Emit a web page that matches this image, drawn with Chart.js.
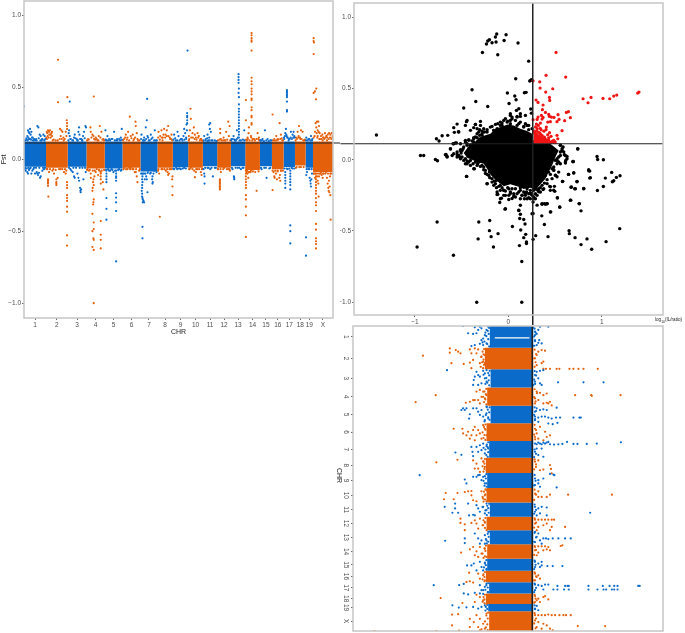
<!DOCTYPE html>
<html>
<head>
<meta charset="utf-8">
<title>Fst and log ratio by chromosome</title>
<script src="https://cdn.jsdelivr.net/npm/chart.js@4"></script>
<style>
html, body { margin: 0; padding: 0; background: #fff; }
canvas, .note { position: absolute; }
.note { font-family: "Liberation Sans", sans-serif; color: #222; white-space: nowrap; }
</style>
</head>
<body>
<canvas id="manhattan" width="340" height="336" style="left:0;top:0"></canvas>
<canvas id="volcano" width="345" height="325" style="left:340px;top:0"></canvas>
<canvas id="flipped" width="355" height="308" style="left:330px;top:325px"></canvas>
<div class="note" style="left:655px;top:317px;font-size:4.6px">log<sub style="font-size:3.4px">10</sub>(IL/ratio)</div>
<div class="note" style="left:336px;top:468px;font-size:7px;writing-mode:vertical-rl">CHR</div>
<script>
var chrLabels = ['1', '2', '3', '4', '5', '6', '7', '8', '9', '10', '11', '12', '13', '14', '15', '16', '17', '18', '19', 'X'];
// chromosome edges along the genome axis (relative position)
var chrEdges = [0, 66, 131, 187, 242, 295, 349, 400, 446, 492, 536, 579, 620, 663, 707, 743, 778, 812, 844, 866, 926];
var fstTicks = [-1, -0.5, 0, 0.5, 1];
var ratioTicks = [-1, 0, 1];
var fstCutoff = 0.112;
var ratioCutoff = 0.26;

// solid part of the manhattan band, per chromosome
var fstBandTop = 0.122;
var fstBandBottom = [-0.052, -0.06, -0.052, -0.065, -0.065, -0.06, -0.085, -0.06, -0.057, -0.06, -0.05, -0.06, -0.05, -0.075, -0.05, -0.07, -0.055, -0.045, -0.06, -0.09];

// [genome position, Fst]
var fstBlue = [[0,.367],[12,.2],[14,.19],[16,.18],[18,.21],[20,.17],[22,.19],[10,.16],[13,.15],[18,.14],[24,.15],[8,.135],[27,.13],[30,.14],[36,.14],[40,.23],[43,.22],[47,.17],[50,.16],[54,.14],[58,.17],[62,.16],[64,.14],[33,.13],[52,.13],
  [137,.16],[135,.2],[134,.18],[150,.15],[152,.17],[158,.14],[163,.19],[165,.22],[166,.17],[172,.14],[180,.19],[184,.23],[186,.22],[177,.16],[160,.13],[145,.13],[175,.13],[140,.14],[137,.4],
  [244,.2],[250,.16],[255,.14],[262,.14],[270,.19],[276,.13],[285,.14],[293,.21],[247,.13],[280,.13],[290,.15],
  [352,.17],[360,.15],[365,.22],[368,.27],[369,.418],[362,.13],[372,.15],[380,.17],[385,.15],[392,.2],[357,.13],[377,.13],[395,.13],[370,.16],
  [450,.17],[455,.13],[460,.19],[463,.16],[470,.14],[478,.16],[480,.21],[483,.18],[487,.24],[490,.754],[489,.32],[489,.3],[489,.29],[489,.27],[489,.25],[488,.2],[486,.14],[475,.13],
  [540,.16],[545,.14],[550,.17],[555,.15],[552,.13],[558,.25],[555,.24],[557,.21],[562,.13],[550,.125],[560,.19],
  [622,.14],[628,.16],[632,.13],[638,.2],[643,.59],[643,.57],[643,.55],[643,.53],[644,.49],[643,.46],[644,.43],[644,.38],[644,.35],[644,.33],[644,.31],[644,.29],[644,.27],[644,.25],[644,.23],[644,.21],[644,.19],[644,.17],[644,.15],[660,.2],[646,.13],[638,.14],
  [722,.2],[715,.14],[710,.13],[730,.14],[738,.13],
  [788,.48],[788,.47],[788,.46],[788,.45],[788,.44],[788,.43],[788,.4],[788,.34],[788,.33],[785,.21],[783,.18],[780,.14],[790,.15],[793,.13],[800,.19],[805,.17],[808,.19],[811,.15],[796,.14],[787,.16],
  [846,.15],[850,.13],[855,.14],[860,.16],[863,.13],
  [2,-.07],[5,-.08],[8,-.065],[10,-.09],[15,-.075],[20,-.06],[25,-.08],[28,-.07],[33,-.1],[38,-.09],[42,-.11],[45,-.095],[48,-.13],[50,-.12],[40,-.1],[55,-.08],[60,-.07],[12,-.1],[22,-.1],
  [139,-.07],[146,-.09],[150,-.12],[152,-.13],[160,-.1],[163,-.13],[165,-.15],[168,-.2],[169,-.22],[170,-.23],[171,-.21],[178,-.14],[185,-.09],[142,-.08],
  [247,-.08],[247,-.1],[247,-.12],[247,-.14],[247,-.16],[247,-.27],[247,-.345],[247,-.42],[276,-.08],[276,-.1],[276,-.12],[276,-.13],[276,-.15],[276,-.237],[276,-.267],[276,-.3],[276,-.36],[276,-.71],[255,-.08],[262,-.07],[268,-.09],[285,-.07],[290,-.08],[252,-.07],
  [354,-.1],[355,-.12],[354,-.14],[355,-.16],[354,-.18],[354,-.2],[353,-.22],[354,-.24],[354,-.26],[355,-.27],[356,-.28],[358,-.29],[360,-.3],[356,-.3],[355,-.47],[355,-.55],[370,-.23],[368,-.14],[366,-.12],[372,-.08],[378,-.1],[384,-.14],[385,-.12],[385,-.17],[386,-.16],[390,-.08],[395,-.07],[360,-.1],[362,-.14],[358,-.07],[375,-.07],
  [450,-.07],[456,-.06],[463,-.065],[470,-.07],[480,-.06],
  [538,-.07],[540,-.1],[541,-.12],[541,-.17],[566,-.12],[550,-.06],[558,-.07],[572,-.06],
  [629,-.12],[630,-.13],[630,-.14],[625,-.07],[640,-.06],[650,-.07],[658,-.06],
  [727,-.13],[712,-.07],[720,-.06],[735,-.065],
  [798,-.08],[798,-.1],[798,-.12],[798,-.14],[798,-.16],[798,-.18],[798,-.21],[798,-.46],[798,-.5],[798,-.585],[783,-.09],[783,-.11],[783,-.13],[783,-.15],[783,-.17],[783,-.2],[790,-.07],[805,-.065],
  [845,-.543],[845,-.67],[846,-.11],[848,-.09],[856,-.13],[858,-.15],[859,-.17],[860,-.19],[861,-.14],[863,-.1],[852,-.07]];
var fstOrange = [[68,.19],[70,.18],[72,.2],[75,.19],[78,.2],[80,.17],[82,.18],[84,.19],[74,.15],[86,.13],[69,.14],[102,.69],[102,.395],[108,.21],[112,.2],[115,.19],[118,.15],[110,.16],[128,.27],[129,.25],[129,.23],[129,.21],[130,.43],[122,.14],[125,.19],
  [199,.22],[192,.14],[200,.19],[205,.17],[209,.435],[215,.15],[227,.23],[224,.16],[220,.13],[232,.19],[238,.14],[210,.14],
  [300,.14],[305,.17],[310,.15],[317,.295],[320,.16],[326,.17],[334,.26],[335,.23],[330,.14],[338,.18],[342,.13],[312,.19],
  [403,.19],[408,.16],[412,.2],[416,.15],[420,.21],[424,.17],[428,.2],[432,.23],[438,.14],[442,.17],[415,.13],
  [494,.16],[497,.2],[499,.35],[500,.28],[505,.18],[509,.22],[512,.17],[515,.15],[520,.18],[524,.16],[529,.14],[533,.13],[494,.13],
  [588,.21],[588,.18],[590,.14],[598,.15],[606,.19],[612,.26],[616,.23],[614,.16],[602,.13],
  [682,.875],[682,.86],[682,.84],[682,.825],[682,.815],[682,.754],[682,.565],[682,.54],[682,.52],[682,.49],[682,.47],[682,.45],[682,.42],[682,.41],[682,.36],[682,.34],[682,.3],[682,.29],[682,.25],[682,.24],[665,.41],[665,.27],[673,.18],[674,.22],[670,.15],[680,.16],[690,.14],[700,.18],[704,.15],[668,.13],[684,.13],
  [745,.31],[750,.14],[760,.14],[766,.25],[770,.17],[774,.13],[756,.16],
  [815,.15],[820,.19],[824,.23],[830,.2],[835,.19],[828,.14],[840,.13],[822,.15],
  [868,.73],[868,.84],[868,.82],[869,.81],[868,.46],[872,.47],[876,.49],[875,.415],[874,.25],[876,.22],[878,.26],[880,.2],[882,.26],[884,.23],[872,.19],[886,.18],[890,.16],[894,.17],[898,.15],[902,.18],[906,.16],[910,.17],[914,.18],[918,.17],[922,.18],[924,.15],[880,.16],[885,.14],[895,.13],[908,.13],[877,.18],[883,.19],
  [72,-.14],[72,-.15],[72,-.16],[72,-.17],[72,-.185],[73,-.26],[97,-.14],[97,-.16],[97,-.17],[97,-.18],[101,-.13],[90,-.1],[75,-.09],[70,-.07],[85,-.08],[110,-.07],[120,-.09],[125,-.1],[129,-.2],[129,-.25],[129,-.27],[129,-.29],[129,-.33],[129,-.365],[129,-.53],[129,-.6],[129,-.18],[129,-.16],
  [209,-1],[208,-.3],[209,-.28],[207,-.315],[205,-.38],[209,-.44],[209,-.485],[205,-.5],[208,-.55],[209,-.56],[205,-.61],[209,-.63],[205,-.22],[206,-.2],[209,-.18],[207,-.16],[208,-.14],[211,-.12],[190,-.07],[195,-.08],[200,-.1],[215,-.09],[200,-.13],[230,-.1],[230,-.12],[230,-.14],[230,-.17],[230,-.43],[230,-.525],[230,-.56],[230,-.62],[230,-.09],[238,-.21],[236,-.16],[226,-.08],[222,-.11],[218,-.07],
  [300,-.06],[310,-.07],[320,-.06],[325,-.07],[332,-.09],[335,-.09],[338,-.12],[340,-.16],[345,-.08],[315,-.06],
  [407,-.4],[402,-.08],[405,-.1],[415,-.07],[425,-.08],[430,-.09],[432,-.11],[434,-.1],[438,-.07],[445,-.19],[445,-.25],[445,-.12],[444,-.14],
  [496,-.07],[500,-.06],[510,-.08],[512,-.125],[515,-.09],[520,-.07],[530,-.09],[532,-.11],[533,-.07],
  [587,-.14],[587,-.15],[587,-.16],[587,-.17],[587,-.18],[587,-.19],[587,-.2],[587,-.21],[582,-.07],[590,-.09],[600,-.06],[612,-.07],[617,-.08],
  [665,-.08],[665,-.1],[665,-.12],[665,-.14],[665,-.16],[665,-.18],[665,-.2],[665,-.25],[665,-.28],[665,-.33],[665,-.39],[665,-.54],[670,-.1],[672,-.13],[669,-.08],[675,-.09],[697,-.22],[680,-.08],[690,-.07],[700,-.07],
  [745,-.215],[748,-.09],[750,-.12],[751,-.13],[755,-.1],[758,-.14],[765,-.13],[767,-.11],[768,-.15],[770,-.08],[760,-.08],
  [815,-.06],[830,-.055],
  [875,-.1],[875,-.12],[875,-.14],[875,-.16],[875,-.18],[875,-.2],[875,-.22],[875,-.24],[875,-.27],[875,-.3],[875,-.32],[875,-.36],[875,-.45],[875,-.49],[875,-.55],[875,-.57],[875,-.59],[875,-.62],[883,-.26],[870,-.1],[872,-.13],[878,-.12],[880,-.15],[882,-.17],[884,-.12],[886,-.1],[890,-.09],[892,-.11],[895,-.13],[898,-.1],[900,-.08],[905,-.09],[908,-.13],[910,-.17],[912,-.2],[913,-.22],[915,-.23],[918,-.25],[919,-.42],[914,-.15],[917,-.12],[920,-.1],[923,-.08],[916,-.19]];
// the crowded fringe just outside the solid band
var fstBlueFringe = [[3,.13],[7,.145],[11,.13],[15,.14],[21,.135],[26,.15],[31,.135],[38,.13],[44,.145],[49,.13],[56,.135],[61,.13],[133,.13],[139,.14],[147,.13],[154,.145],[161,.13],[168,.14],[174,.13],[182,.145],[245,.135],[252,.13],[258,.13],[265,.14],[272,.13],[279,.14],[288,.13],[293,.135],[351,.14],[358,.13],[366,.14],[374,.13],[382,.14],[390,.13],[398,.13],[448,.135],[453,.145],[459,.13],[466,.13],[473,.14],[481,.135],[486,.15],[538,.13],[544,.13],[549,.145],[556,.13],[565,.13],[572,.13],[577,.125],[621,.13],[626,.14],[631,.135],[635,.13],[641,.15],[650,.13],[656,.135],[661,.13],[708,.13],[713,.13],[719,.125],[726,.13],[733,.125],[741,.13],[779,.15],[782,.16],[786,.17],[789,.15],[794,.14],[799,.15],[803,.14],[807,.15],[810,.16],[845,.13],[852,.14],[858,.13],[864,.14],
  [4,-.06],[13,-.06],[18,-.065],[30,-.06],[36,-.06],[46,-.06],[57,-.06],[63,-.06],[135,-.06],[148,-.06],[156,-.06],[167,-.06],[175,-.06],[183,-.06],[246,-.075],[258,-.08],[265,-.075],[273,-.08],[282,-.075],[292,-.075],[351,-.1],[357,-.1],[364,-.1],[371,-.095],[380,-.095],[388,-.1],[397,-.09],[448,-.065],[459,-.07],[467,-.065],[476,-.065],[485,-.065],[543,-.06],[553,-.06],[562,-.06],[575,-.06],[623,-.06],[634,-.06],[645,-.06],[655,-.06],[710,-.06],[725,-.06],[738,-.06],[780,-.065],[787,-.065],[795,-.065],[802,-.06],[810,-.065],[847,-.07],[855,-.07],[862,-.07]];
var fstOrangeFringe = [[67,.15],[71,.16],[76,.17],[80,.15],[84,.16],[89,.135],[95,.13],[101,.13],[107,.14],[113,.14],[119,.13],[127,.16],[189,.13],[194,.135],[202,.15],[208,.16],[213,.135],[218,.14],[223,.13],[229,.15],[235,.135],[240,.13],[297,.13],[303,.15],[308,.135],[315,.13],[322,.145],[328,.13],[333,.15],[340,.14],[346,.13],[402,.15],[407,.135],[413,.15],[418,.17],[423,.15],[428,.16],[433,.16],[437,.15],[441,.14],[444,.13],[495,.14],[501,.15],[506,.15],[511,.14],[517,.135],[522,.15],[527,.13],[531,.14],[535,.125],[581,.13],[586,.135],[592,.13],[597,.13],[603,.13],[609,.135],[618,.13],[666,.135],[671,.14],[676,.13],[681,.15],[686,.14],[692,.13],[697,.14],[702,.14],[705,.13],[746,.13],[752,.13],[757,.13],[762,.135],[768,.14],[772,.145],[776,.13],[814,.13],[818,.14],[823,.16],[827,.15],[832,.14],[837,.13],[842,.135],[868,.15],[871,.16],[879,.15],[887,.14],[891,.14],[896,.15],[900,.14],[904,.15],[909,.15],[913,.14],[917,.15],[921,.14],[925,.16],
  [68,-.07],[78,-.07],[88,-.07],[95,-.075],[105,-.07],[115,-.07],[123,-.07],[127,-.08],[189,-.075],[197,-.075],[206,-.08],[212,-.08],[225,-.075],[233,-.08],[240,-.075],[298,-.07],[306,-.07],[318,-.07],[328,-.07],[336,-.07],[347,-.07],[403,-.07],[412,-.07],[421,-.07],[429,-.07],[436,-.07],[443,-.07],[495,-.07],[505,-.07],[516,-.07],[525,-.07],[534,-.07],[581,-.07],[589,-.07],[597,-.07],[608,-.07],[616,-.07],[667,-.09],[673,-.09],[679,-.09],[686,-.085],[693,-.09],[703,-.085],[745,-.08],[753,-.08],[760,-.085],[770,-.08],[776,-.08],[817,-.055],[825,-.055],[838,-.055],[868,-.1],[874,-.1],[881,-.1],[889,-.1],[896,-.1],[903,-.1],[911,-.1],[918,-.1],[925,-.1]];

// outline of the saturated cloud in the scatter panel, [log ratio, Fst]
var cloudOutline = [[-.478,.047],[-.406,.112],[-.353,.124],[-.317,.154],[-.246,.171],[-.193,.182],[-.139,.218],[-.068,.234],[-.007,.248],[.057,.241],[.128,.218],[.2,.201],[.253,.182],[.271,.112],[.449,.112],[.538,.065],[.503,.019],[.467,-.04],[.431,-.087],[.396,-.133],[.324,-.187],[.289,-.215],[.235,-.196],[.164,-.204],[.093,-.187],[.021,-.173],[-.05,-.187],[-.103,-.157],[-.15,-.133],[-.193,-.103],[-.228,-.063],[-.264,-.028],[-.335,-.016],[-.389,0],[-.442,.014]];
var redOutline = [[.271,.194],[.342,.171],[.449,.135],[.538,.112],[.271,.112]];
var scatterBlack = [[-.025,.877],[-.125,.882],[-.139,.861],[-.046,.837],[.103,.819],[-.132,.826],[-.175,.821],[-.235,.812],[-.221,.833],[-.203,.842],[-.278,.753],[-.114,.737],[.217,.692],[.078,.568],[.239,.557],[.246,.561],[.228,.552],[-.389,.491],[-.349,.409],[-.011,.468],[.068,.447],[.082,.421],[.171,.47],[.189,.473],[.007,.395],[-.478,.363],[-.221,.374],[.111,.358],[.086,.346],[.239,.356],[.021,.323],[.039,.299],[.093,.304],[.128,.304],[.182,.311],[.246,.327],[-.449,.267],[-.549,.25],[-.585,.225],[-.578,.192],[-.535,.196],[-.299,.269],[-.353,.248],[-.371,.225],[-1.412,.173],[-.77,.147],[-.742,.131],[-.709,.168],[-.649,.171],[-.592,.112],[-.556,.117],[-.941,.03],[-.906,.03],[-.781,.002],[-.759,-.007],[-.667,.037],[-.656,.023],[-.62,.075],[.742,.075],[.948,.023],[.955,.002],[1.016,0],[.692,-.014],[.859,-.07],[.556,.101],[.574,.077],[.599,.035],[.627,.023],[.613,-.005],[.52,-.005],[.556,-.028],[.485,-.07],[-.364,-.063],[-.014,.264],[-.068,.257],[-.121,.218],[-.157,.206],[-.307,.21],[-.282,.201],[-.46,.136],[-.424,.14],[-.371,.154],[-.335,.182],[-.086,.241],[.021,.253],[.093,.241],[.164,.234],[.2,.241],[-.513,.065],[-.496,.019],[-.549,.037],[-.46,-.028],[-.406,-.04],[-.389,.089],[-.442,.112],[-.335,.124],
  [-.446,-.117],[-.246,-.096],[-.228,-.169],[-.15,-.15],[-.157,-.108],[-.121,-.244],[-.093,-.3],[-.075,-.27],[-.036,-.347],[.004,-.279],[.039,-.272],[.111,-.354],[.128,-.383],[.264,-.378],[.307,-.319],[.36,-.308],[.385,-.308],[.414,-.308],[.453,-.366],[.357,-.394],[.385,-.455],[-.763,-.437],[-.317,-.437],[-.2,-.427],[-.203,-.498],[-.111,-.519],[-.185,-.54],[-.324,-.556],[-.16,-.613],[-.977,-.613],[-.588,-.671],[.043,-.469],[.132,-.493],[.121,-.413],[.164,-.42],[.178,-.451],[.185,-.524],[.164,-.547],[.118,-.603],[.193,-.577],[.193,-.589],[.264,-.559],[.292,-.533],[.424,-.54],[.143,-.714],[-.339,-1],[.143,-1],[.649,-.498],[.652,-.519],[.713,-.547],[.841,-.556],[.777,-.596],[.891,-.629],[1.045,-.575],[1.191,-.484],[.524,-.268],[.549,-.333],[.667,-.284],[.756,-.308],[.777,-.359],[.642,-.103],[.699,-.092],[.578,-.153],[.734,-.155],[.67,-.193],[.709,-.204],[.806,-.202],[.952,-.216],[1.016,-.188],[.859,-.077],[.87,-.129],[1.037,-.129],[1.105,-.089],[1.112,-.155],[1.127,-.148],[1.155,-.124],[1.194,-.113],[.538,-.016],[.61,-.016],[.692,-.012],[.503,-.108],[.52,-.12],[.449,-.19],[.485,-.214],[.371,-.209],[.278,-.272],[.324,-.225],[-.05,-.214],[.021,-.237],[.057,-.256],[.146,-.249],[.182,-.237],[.235,-.237]];
var cloudFringe = [[-.585,.042],[-.549,.054],[-.531,.03],[-.496,.065],[-.478,.089],[-.46,.124],[-.424,.136],[-.406,.101],[-.371,.147],[-.353,.159],[-.513,.007],[-.46,.007],[-.406,-.005],[-.353,-.016],[-.442,-.028],[-.371,-.063],[-.449,-.117],[-.317,-.016],[-.282,-.04],[-.264,-.051],[-.21,-.11],[-.246,-.075],[-.175,-.133],[-.228,-.168],[-.139,-.168],[-.103,-.145],[-.086,-.18],[-.114,-.243],[-.086,-.274],[-.05,-.215],[-.032,-.25],[-.007,-.196],[.021,-.227],[.075,-.204],[.093,-.239],[.128,-.215],[.164,-.192],[.2,-.204],[.235,-.215],[.182,-.25],[.217,-.239],[.271,-.215],[.289,-.18],[.324,-.145],[.36,-.133],[.396,-.11],[.431,-.087],[.467,-.063],[.485,-.075],[.503,-.005],[.52,.007],[.556,.03],[.574,.065],[.592,.054],[.61,.03],[.556,.101],[.585,.089],[.627,.007],[.61,-.023],[.692,-.012],[.742,.077],[.645,-.103],[.699,-.094],[.581,-.152],[.734,-.152],[.492,-.187],[.442,-.187],[.496,-.222],[.524,-.267],[.449,-.215],[.663,-.285],[.759,-.309],[.806,-.204],[.877,-.126],[.87,-.08],[.36,-.313],[.396,-.313],[.414,-.309],[.449,-.367],[.549,-.332],[.674,-.192],[.717,-.204],[.253,-.379],[.128,-.32],[.111,-.356],[-.032,-.344],[.264,-.297],[.289,-.274],[.307,-.25],[.342,-.227],[.378,-.204],[.414,-.168],[.467,-.133],[.503,-.11],[.538,-.087],[.324,-.204],[.36,-.18],[.271,-.262],[.235,-.274],[.2,-.274],[.164,-.227],
  [-.264,.218],[-.228,.194],[-.193,.229],[-.139,.248],[-.086,.264],[-.05,.276],[-.007,.271],[.039,.288],[.075,.276],[.128,.264],[.182,.253],[.217,.241],[.253,.218],[-.121,.206],[-.068,.241],[.021,.311],[.093,.299],[.128,.323],[-.299,.241],[-.335,.218],[-.317,.194],[-.282,.171],[-.353,.248],[-.442,.276],[-.46,.241],[-.406,.206],[-.531,.194],[-.567,.117],[-.513,.112],[-.62,.077],[-.674,.035],[-.656,.019],[-.585,.112],[-.246,.147],[-.175,.171],
  [-.175,-.157],[-.157,-.18],[-.128,-.196],[-.086,-.215],[-.068,-.196],[-.032,-.22],[.004,-.25],[.039,-.204],[.057,-.239],[.111,-.227],[.146,-.25],[.128,-.274],[.171,-.274],[.217,-.267],[.253,-.25],[.289,-.239],[.314,-.215],[.342,-.196],[.385,-.164],[.414,-.14],[.449,-.103],[.485,-.051],[.52,-.028],[.538,.019],[.556,.054],[-.2,-.126],[-.228,-.103],[-.264,-.07],[-.299,-.047],[-.335,-.04],[-.378,-.028],[-.424,-.016],[-.478,-.005],[-.521,.019],[-.506,.047],[-.485,.077],[-.442,.101],[-.389,.131],[-.335,.154],[-.282,.182],[-.228,.211],[-.175,.234],[-.114,.253],[-.032,.288],[.021,.276],[.111,.253],[.164,.229],[.217,.211],[-.157,.206],[-.257,.194],[-.307,.171],[-.371,.124],[-.424,.077],[-.513,.07],[-.549,.019],[-.602,.03],[-.121,-.227],[-.05,-.25],[.075,-.262],[-.086,-.157],[-.128,-.145],[.289,-.204],[.235,-.234],[.193,-.227],[.128,-.196],[.004,-.204],[-.103,-.187],[-.203,-.087],[-.328,-.028],[-.442,-.009]];
var scatterRed = [[.51,.753],[.403,.592],[.613,.58],[.264,.554],[.335,.547],[.339,.503],[.474,.498],[.399,.475],[.439,.437],[.442,.416],[.799,.428],[.884,.437],[.852,.4],[1.012,.43],[1.084,.428],[1.127,.447],[1.159,.454],[1.383,.468],[1.397,.475],[.296,.419],[.317,.402],[.371,.384],[.364,.351],[.396,.332],[.353,.311],[.431,.318],[.439,.304],[.531,.316],[.62,.332],[.642,.337],[.488,.297],[.542,.283],[.52,.267],[.663,.295],[.602,.274],[.574,.204],[.46,.299],[.317,.299],[.307,.283],[.264,.281],[.371,.297],[.36,.285],[.421,.264],[.449,.267],[.342,.257],[.321,.241],[.307,.218],[.406,.229],[.403,.211],[.307,.199],[.342,.182],[.282,.187],[.36,.171],[.385,.159],[.431,.154],[.456,.164],[.52,.171],[.528,.147],[.485,.136],[.324,.159],[.289,.159],[.396,.136],
  [.28,.13],[.3,.15],[.32,.14],[.35,.14],[.37,.13],[.39,.15],[.41,.13],[.43,.14],[.3,.18],[.28,.2],[.33,.19],[.47,.13],[.5,.125],[.29,.23],[.3,.25],[.35,.21],[.38,.2],[.44,.19],[.42,.175],[.34,.22]];

// solid part of the flipped panel, per chromosome (log ratio)
var ratioBandLeft = [-.193, -.246, -.185, -.221, -.185, -.228, -.2, -.235, -.221, -.228, -.193, -.228, -.193, -.221, -.221, -.235, -.2, -.235, -.21, -.2];
var ratioBandRight = .271;
var ratioStripe = [[-.14, 36], [.23, 36]];

// [log ratio, genome position]
var ratioBlue = [[-.478,0],[-.424,22],[-.371,24],[-.353,4],[-.335,22],[-.317,12],[-.299,2],[-.282,7],[-.299,54],[-.282,43],[-.264,38],[-.246,28],[-.228,12],[-.21,2],[-.389,61],[-.353,58],[-.264,58],[-.228,53],[.289,17],[.307,24],[.324,12],[.342,2],[.431,2],[.289,43],[.324,51],[.36,53],[.334,43],[.307,58],[.289,28],[.27,5],[.27,60],
  [-.649,134],[-.364,164],[-.335,139],[-.317,149],[-.353,154],[-.299,154],[-.264,136],[-.246,144],[-.228,134],[-.317,179],[-.282,174],[-.246,159],[-.228,169],[-.371,179],[.307,139],[.342,136],[.289,149],[.324,159],[.378,134],[.289,169],[.342,174],[.36,179],[.535,171],[.806,171],[1.02,171],[.271,179],
  [-.496,255],[-.478,250],[-.46,255],[-.442,250],[-.414,281],[-.371,250],[-.335,250],[-.317,260],[-.299,270],[-.282,255],[-.264,275],[-.228,245],[-.228,265],[-.246,286],[-.21,281],[-.406,268],[.289,275],[.307,250],[.342,255],[.378,253],[.414,255],[.52,248],[.289,286],[.324,278],[.36,275],[.396,275],[.431,278],[.467,281],[.513,278],[.556,278],[.699,278],[.763,278],[.777,278],[.324,291],[.431,296],[.478,298],[.528,294],[.289,260],
  [.289,357],[.307,359],[.324,354],[.342,357],[.36,359],[.378,354],[.396,357],[.414,354],[.431,352],[.449,359],[.492,360],[.538,359],[.581,358],[.631,352],[.699,358],[.742,358],[.841,358],[.948,357],[1.205,353],[-.389,367],[-.378,382],[-.335,367],[-.299,362],[-.264,357],[-.228,365],[-.317,382],[-.282,377],[-.246,387],[-.21,372],[-.371,395],[-.56,384],[-.496,391],[.289,382],[.324,392],[.378,397],[.307,372],[.36,372],
  [-.941,453],[-.46,466],[-.371,458],[-.317,453],[-.264,458],[-.442,478],[-.335,458],[-.282,468],[-.246,478],[-.228,488],[.289,463],[.324,468],[.342,488],[.289,483],[.324,478],[.52,490],[.496,453],[.449,449],[.485,451],[.378,463],
  [-.674,549],[-.563,539],[-.563,554],[-.592,567],[-.531,567],[-.424,539],[-.414,575],[-.371,573],[-.335,544],[-.317,554],[-.299,564],[-.264,549],[-.246,569],[-.228,539],[-.228,559],[-.353,575],[.289,549],[.324,554],[.36,549],[.414,551],[.289,564],[.342,569],[.414,575],[.877,567],[.307,575],
  [-.67,652],[-.46,645],[-.46,659],[-.353,630],[-.317,645],[-.282,651],[-.299,661],[-.246,635],[-.228,651],[-.21,625],[-.246,661],[.289,625],[.307,640],[.342,651],[.378,645],[.406,645],[.431,647],[.478,645],[.538,645],[.61,645],[.67,645],[.289,656],[.324,630],[.36,661],
  [-.435,727],[-.389,727],[-.364,721],[-.335,742],[-.299,716],[-.282,732],[-.264,742],[-.246,721],[-.228,737],[.289,716],[.324,721],[.36,716],[.289,732],[.342,732],[.421,729],[.478,729],[.581,729],[.36,727],
  [-.791,787],[-.52,787],[-.471,783],[-.299,787],[-.264,802],[-.246,792],[-.228,782],[-.282,802],[-.21,808],[.289,785],[.324,787],[.36,789],[.396,785],[.431,785],[.289,802],[.378,800],[.485,800],[.528,789],[.61,789],[.635,789],[.649,789],[.859,789],[1.012,789],[1.084,789],[1.134,789],[1.169,789],[1.39,789],[1.405,789],[.528,800],[.599,800],[.649,800],[.859,800],[.955,800],[1.02,800],[1.048,800],[1.109,800],[1.134,800],[1.169,800],
  [-.471,812],[-.424,815],[-.353,810],[-.299,812],[-.264,813],
  [-.592,848],[-.524,855],[-.442,854],[-.371,853],[-.317,858],[-.282,853],[-.246,848],[.289,858],[.324,863],[.307,850]];
var ratioOrange = [[-.906,90],[-.62,68],[-.62,81],[-.556,73],[-.531,78],[-.506,83],[-.602,113],[-.471,115],[-.406,71],[-.389,83],[-.353,68],[-.335,83],[-.317,71],[-.371,103],[-.406,111],[-.389,128],[-.299,113],[-.264,108],[-.282,93],[-.246,88],[-.228,78],[-.228,124],[-.246,113],[.324,78],[.36,73],[.396,75],[.307,88],[.289,98],[.36,113],[.307,119],[.378,108],
  [.378,130],[.406,130],[.449,130],[.52,130],[.549,130],[.656,130],[.699,130],[.752,130],[.806,130],[.959,130],
  [-.77,210],[-.984,231],[.717,210],[.888,210],[.895,212],[1.201,210],[-.335,199],[-.299,194],[-.264,199],[-.228,210],[-.371,225],[-.449,233],[-.406,230],[-.353,225],[-.317,225],[-.282,215],[-.246,220],[-.299,235],[.307,199],[.342,203],[.378,210],[.414,205],[.289,220],[.324,225],[.378,235],[.414,233],[.449,230],[.467,241],[.289,235],[.431,235],
  [-.578,312],[-.485,312],[-.478,326],[-.442,332],[-.424,321],[-.406,342],[-.371,316],[-.389,332],[-.353,347],[-.335,332],[-.317,316],[-.299,326],[-.264,301],[-.246,312],[-.282,342],[-.228,332],[-.353,306],[.289,312],[.307,326],[.342,306],[.396,321],[.449,332],[.378,347],[.324,342],[.289,337],[.414,337],
  [-.763,414],[-.538,406],[-.371,408],[-.335,418],[-.317,433],[-.299,443],[-.264,412],[-.246,428],[-.282,402],[-.228,438],[-.353,433],[.289,412],[.324,408],[.299,428],[.342,438],[.449,422],[.46,434],[.378,436],[.467,447],
  [-.663,507],[-.538,507],[-.681,526],[-.578,526],[-.46,504],[-.424,502],[-.389,501],[-.389,514],[-.371,529],[-.335,532],[-.282,502],[-.246,514],[-.264,524],[-.228,499],[-.228,532],[.289,509],[.324,519],[.36,519],[.414,519],[.449,512],[.642,512],[1.109,512],[.324,502],
  [-.506,585],[-.506,598],[-.46,602],[-.46,620],[-.389,598],[-.353,590],[-.335,600],[-.317,615],[-.299,585],[-.264,605],[-.228,620],[-.246,595],[.289,588],[.324,588],[.36,588],[.396,588],[.431,588],[.467,588],[.492,588],[.289,600],[.324,610],[.378,605],[.414,600],[.467,610],[.61,610],[.449,620],[.307,620],
  [-.499,688],[-.406,678],[-.371,671],[-.353,696],[-.335,684],[-.299,671],[-.282,691],[-.246,676],[-.228,701],[-.317,701],[.289,671],[.324,669],[.36,669],[.396,669],[.431,671],[.563,668],[.581,666],[.289,681],[.324,688],[.378,681],[.414,678],[.449,681],[.307,696],
  [-.414,749],[-.442,777],[-.406,775],[-.371,779],[-.317,752],[-.299,767],[-.264,757],[-.246,772],[.289,752],[.324,757],[.342,767],[.289,772],[.307,762],
  [-.717,826],[-.485,841],[-.335,816],[-.299,823],[-.264,833],[-.228,843],[-.353,838],[.289,820],[.324,828],[.378,823],[.396,820],[.289,838],[.342,838],[.431,830],[.307,833],
  [-.595,876],[-.531,875],[-.595,909],[-.406,889],[-.364,899],[-.335,878],[-.317,914],[-.299,889],[-.264,904],[-.246,919],[-.228,873],[-.763,926],[-1.422,926],[-.406,914],[-.282,921],
  [.289,878],[.324,878],[.36,878],[.396,878],[.431,876],[.467,878],[.503,878],[.549,878],[.592,878],[.62,878],[.67,878],[.289,894],[.324,899],[.378,904],[.414,909],[.449,919],[.478,924],[.745,911],[1.037,911],[.307,914],[.36,919],[-.52,925],[-.299,924]];
// the crowded fringe on both sides of the solid band
var ratioBlueFringe = [[-.2,6],[-.215,15],[-.205,24],[-.23,31],[-.21,40],[-.25,47],[-.22,55],[-.2,62],[-.24,20],[-.27,50],[-.195,136],[-.21,143],[-.2,150],[-.23,158],[-.205,165],[-.22,172],[-.2,180],[-.26,148],[-.24,176],[-.195,247],[-.215,254],[-.2,262],[-.235,270],[-.21,277],[-.195,285],[-.25,290],[-.225,246],[-.21,353],[-.225,360],[-.215,368],[-.24,375],[-.21,383],[-.23,392],[-.26,370],[-.215,397],[-.23,450],[-.245,456],[-.235,463],[-.26,470],[-.23,478],[-.25,485],[-.3,452],[-.2,540],[-.22,546],[-.21,553],[-.24,560],[-.205,567],[-.225,574],[-.27,550],[-.2,624],[-.215,631],[-.205,640],[-.235,647],[-.21,655],[-.225,660],[-.23,711],[-.245,718],[-.235,726],[-.255,733],[-.23,740],[-.21,781],[-.23,787],[-.215,794],[-.24,801],[-.215,808],[-.22,847],[-.235,853],[-.22,859],[-.24,864],
  [.285,8],[.295,20],[.28,32],[.29,46],[.282,60],[.285,137],[.3,150],[.28,163],[.29,176],[.285,247],[.3,258],[.28,270],[.29,283],[.285,375],[.3,388],[.28,398],[.285,452],[.295,470],[.28,484],[.285,542],[.3,558],[.28,570],[.285,628],[.3,642],[.28,655],[.285,712],[.295,725],[.28,738],[.285,782],[.3,795],[.28,808],[.285,848],[.29,860]];
var ratioOrangeFringe = [[-.255,70],[-.27,78],[-.26,86],[-.285,94],[-.26,102],[-.275,110],[-.255,118],[-.29,124],[-.265,128],[-.23,191],[-.25,199],[-.235,207],[-.265,215],[-.24,223],[-.255,231],[-.23,238],[-.24,299],[-.255,307],[-.24,315],[-.27,323],[-.25,331],[-.26,340],[-.24,346],[-.245,404],[-.26,411],[-.25,418],[-.27,426],[-.25,434],[-.26,442],[-.24,496],[-.255,503],[-.24,511],[-.27,519],[-.245,527],[-.26,533],[-.24,583],[-.26,590],[-.245,597],[-.27,605],[-.245,613],[-.235,667],[-.25,675],[-.24,683],[-.27,691],[-.245,699],[-.26,704],[-.245,747],[-.26,754],[-.25,762],[-.27,769],[-.25,775],[-.245,816],[-.26,823],[-.25,830],[-.27,837],[-.25,842],[-.21,870],[-.23,879],[-.215,888],[-.245,897],[-.22,906],[-.235,915],[-.215,923],
  [.285,72],[.3,85],[.28,98],[.295,110],[.285,124],[.285,192],[.31,204],[.28,216],[.295,229],[.285,300],[.3,316],[.28,330],[.29,344],[.285,405],[.3,420],[.28,435],[.285,497],[.3,512],[.28,528],[.285,584],[.3,597],[.28,612],[.285,668],[.3,680],[.28,695],[.285,748],[.3,760],[.28,772],[.285,816],[.295,828],[.28,840],[.285,872],[.3,888],[.28,903],[.295,918]];

var blue = '#0a6bcb';
var orange = '#e5600a';

Chart.defaults.font.family = '"Liberation Sans", sans-serif';
Chart.defaults.font.size = 6.5;
Chart.defaults.color = '#4d4d4d';

function toPoints(pairs) {
	return pairs.map(function (p) { return { x: p[0], y: p[1] }; });
}
function dots(pairs, color, radius, order) {
	return { data: toPoints(pairs), backgroundColor: color, borderWidth: 0, pointRadius: radius, order: order };
}
function shape(pairs, color, order) {
	return { data: toPoints(pairs), showLine: true, fill: 'shape', backgroundColor: color, borderColor: color, borderWidth: 0, pointRadius: 0, order: order };
}
function rule(pairs, color, width) {
	return { data: toPoints(pairs), showLine: true, borderColor: color, borderWidth: width, pointRadius: 0, clip: false, order: 0 };
}
function chrMiddles() {
	return chrLabels.map(function (l, i) { return (chrEdges[i] + chrEdges[i + 1]) / 2; });
}
function setTicks(values) {
	return function (scale) {
		scale.ticks = values.map(function (v) { return { value: v }; });
	};
}
// fixed axis size, and no extra room for half a tick label
function fixSize(key, value) {
	return function (scale) {
		scale[key] = value;
		scale.paddingTop = scale.paddingBottom = scale.paddingLeft = scale.paddingRight = 0;
	};
}
function minusLabel(digits) {
	return function (v) { return (v < 0 ? '\u2212' : '') + Math.abs(v).toFixed(digits); };
}
var tickGrid = { drawOnChartArea: false, drawTicks: true, tickLength: 2, color: '#666' };

/* grey panel outline on top of the marks */
var panelBorder = {
	id: 'panelBorder',
	afterDatasetsDraw: function (chart) {
		var a = chart.chartArea, ctx = chart.ctx;
		ctx.save();
		ctx.strokeStyle = '#c6c6c6';
		ctx.lineWidth = 1.5;
		ctx.strokeRect(a.left, a.top, a.right - a.left, a.bottom - a.top);
		ctx.restore();
	}
};
function baseOptions(padding) {
	return {
		responsive: false,
		animation: false,
		layout: { padding: padding, autoPadding: false },
		plugins: { legend: { display: false }, tooltip: { enabled: false } }
	};
}

/* manhattan panel */
var fstDatasets = [
	rule([[0, fstCutoff], [947, fstCutoff]], '#222', 1),
	dots(fstBlue, blue, 1.1, 1), dots(fstOrange, orange, 1.1, 1),
	dots(fstBlueFringe, blue, 1.1, 1), dots(fstOrangeFringe, orange, 1.1, 1)
];
chrLabels.forEach(function (l, i) {
	fstDatasets.push(shape([[chrEdges[i], fstBandTop], [chrEdges[i + 1], fstBandTop], [chrEdges[i + 1], fstBandBottom[i]], [chrEdges[i], fstBandBottom[i]]], i % 2 ? orange : blue, 2));
});
var manhattanOptions = baseOptions({ top: 1, right: 7 });
manhattanOptions.scales = {
	x: {
		type: 'linear', min: 0, max: 926,
		afterBuildTicks: setTicks(chrMiddles()),
		afterFit: fixSize('height', 18),
		grid: tickGrid, border: { display: false },
		ticks: { autoSkip: false, maxRotation: 0, padding: 1, callback: function (v, i) { return chrLabels[i]; } },
		title: { display: true, text: 'CHR', font: { size: 7 }, color: '#222', padding: 0 }
	},
	y: {
		min: -1.103, max: 1.098,
		afterBuildTicks: setTicks(fstTicks),
		afterFit: fixSize('width', 24),
		grid: tickGrid, border: { display: false },
		ticks: { padding: 1, callback: minusLabel(1) },
		title: { display: true, text: 'Fst', font: { size: 7 }, color: '#222', padding: 0 }
	}
};
new Chart(document.getElementById('manhattan').getContext('2d'), {
	type: 'scatter',
	data: { datasets: fstDatasets },
	options: manhattanOptions,
	plugins: [panelBorder]
});

/* scatter panel */
var volcanoOptions = baseOptions({ top: 3, right: 22 });
volcanoOptions.scales = {
	x: {
		min: -1.652, max: 1.654,
		afterBuildTicks: setTicks(ratioTicks),
		afterFit: fixSize('height', 10),
		grid: tickGrid, border: { display: false },
		ticks: { padding: 1, maxRotation: 0, callback: minusLabel(0) }
	},
	y: {
		min: -1.09, max: 1.1,
		afterBuildTicks: setTicks(fstTicks),
		afterFit: fixSize('width', 14),
		grid: tickGrid, border: { display: false },
		ticks: { padding: 1, callback: minusLabel(1) }
	}
};
new Chart(document.getElementById('volcano').getContext('2d'), {
	type: 'scatter',
	data: {
		datasets: [
			rule([[-1.797, fstCutoff], [1.654, fstCutoff]], '#222', 1),
			rule([[ratioCutoff, 1.1], [ratioCutoff, -1.165]], '#222', 1),
			dots(scatterRed, '#f01414', 1.6, 1),
			shape(redOutline, '#f01414', 2),
			dots(scatterBlack, '#000', 1.7, 3),
			dots(cloudFringe, '#000', 1.7, 3),
			shape(cloudOutline, '#000', 4)
		]
	},
	options: volcanoOptions,
	plugins: [panelBorder]
});

/* same layout as the manhattan panel, turned on its side */
var ratioDatasets = [
	rule([[ratioCutoff, 0], [ratioCutoff, 926]], '#222', 1),
	rule(ratioStripe, '#fff', 1.2),
	dots(ratioBlue, blue, 1.1, 1), dots(ratioOrange, orange, 1.1, 1),
	dots(ratioBlueFringe, blue, 1.1, 1), dots(ratioOrangeFringe, orange, 1.1, 1)
];
chrLabels.forEach(function (l, i) {
	ratioDatasets.push(shape([[ratioBandLeft[i], chrEdges[i]], [ratioBandRight, chrEdges[i]], [ratioBandRight, chrEdges[i + 1]], [ratioBandLeft[i], chrEdges[i + 1]]], i % 2 ? orange : blue, 2));
});
var flippedOptions = baseOptions({ top: 1, right: 22, bottom: 2 });
flippedOptions.scales = {
	x: { min: -1.652, max: 1.654, display: false },
	y: {
		min: 0, max: 926, reverse: true,
		afterBuildTicks: setTicks(chrMiddles()),
		afterFit: fixSize('width', 23),
		grid: tickGrid, border: { display: false },
		ticks: { autoSkip: false, minRotation: -90, maxRotation: -90, crossAlign: 'center', padding: 2, callback: function (v, i) { return chrLabels[i]; } }
	}
};
new Chart(document.getElementById('flipped').getContext('2d'), {
	type: 'scatter',
	data: { datasets: ratioDatasets },
	options: flippedOptions,
	plugins: [panelBorder]
});
</script>
</body>
</html>
